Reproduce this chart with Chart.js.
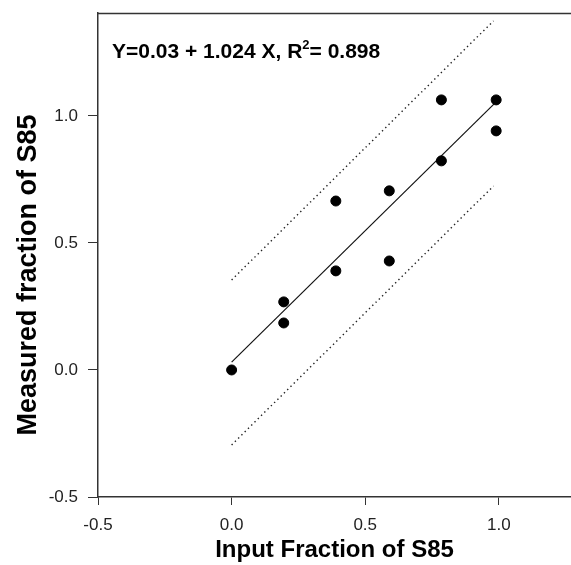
<!DOCTYPE html>
<html>
<head>
<meta charset="utf-8">
<script src="https://cdn.jsdelivr.net/npm/chart.js@4.4.1/dist/chart.umd.min.js"></script>
<style>
  html, body { margin: 0; padding: 0; background: #ffffff; }
  #wrap { width: 571px; height: 565px; }
</style>
</head>
<body>
<div id="wrap"><canvas id="c" width="571" height="565"></canvas></div>
<script>
// ---- data ----
const inputFraction    = [0, 0.195, 0.195, 0.39, 0.39, 0.59, 0.59, 0.785, 0.785, 0.99, 0.99];
const measuredFraction = [0.0, 0.268, 0.185, 0.665, 0.39, 0.705, 0.429, 1.063, 0.823, 1.063, 0.941];
const fitX   = [0, 0.99];
const fitY   = [0.031, 1.055];
const bandX  = [0, 0.98];
const upperY = [0.354, 1.374];
const lowerY = [-0.295, 0.724];
const xTicks = [-0.5, 0.0, 0.5, 1.0];
const yTicks = [-0.5, 0.0, 0.5, 1.0];
const xTitle = 'Input Fraction of S85';
const yTitle = 'Measured fraction of S85';
const eqMain = 'Y=0.03 + 1.024 X, R';
const eqSup  = '2';
const eqTail = '= 0.898';

const toPts = (xs, ys) => xs.map((x, i) => ({ x: x, y: ys[i] }));

const FONT = "'Liberation Sans', Arial, Helvetica, sans-serif";

const zeroPad = (s) => { s.paddingTop = 0; s.paddingBottom = 0; s.paddingLeft = 0; s.paddingRight = 0; };

const framePlugin = {
  id: 'frameAndText',
  afterDraw(chart) {
    const ctx = chart.ctx;
    const a = chart.chartArea;
    ctx.save();
    // top frame line
    ctx.strokeStyle = '#333';
    ctx.lineWidth = 1.5;
    ctx.beginPath();
    ctx.moveTo(a.left, a.top + 0.5);
    ctx.lineTo(a.right, a.top + 0.5);
    ctx.stroke();
    // equation
    ctx.fillStyle = '#000';
    ctx.textBaseline = 'alphabetic';
    ctx.textAlign = 'left';
    ctx.font = 'bold 21px ' + FONT;
    let x = 112, y = 58;
    ctx.fillText(eqMain, x, y);
    x += ctx.measureText(eqMain).width;
    ctx.font = 'bold 13px ' + FONT;
    ctx.fillText(eqSup, x, y - 9);
    x += ctx.measureText(eqSup).width;
    ctx.font = 'bold 21px ' + FONT;
    ctx.fillText(eqTail, x, y);
    // y title
    ctx.translate(29, 275);
    ctx.rotate(-Math.PI / 2);
    ctx.textAlign = 'center';
    ctx.textBaseline = 'middle';
    ctx.font = 'bold 27px ' + FONT;
    ctx.fillText(yTitle, 0, 0);
    ctx.restore();
  }
};

new Chart(document.getElementById('c'), {
  type: 'scatter',
  data: {
    datasets: [
      {
        label: 'data',
        data: toPts(inputFraction, measuredFraction),
        backgroundColor: '#000',
        borderColor: '#000',
        pointRadius: 5,
        pointHoverRadius: 5,
        showLine: false
      },
      {
        label: 'fit',
        data: toPts(fitX, fitY),
        borderColor: '#111',
        borderWidth: 1.2,
        pointRadius: 0,
        showLine: true
      },
      {
        label: 'upper',
        data: toPts(bandX, upperY),
        borderColor: '#222',
        borderWidth: 1.4,
        borderDash: [1.4, 3.2],
        pointRadius: 0,
        showLine: true
      },
      {
        label: 'lower',
        data: toPts(bandX, lowerY),
        borderColor: '#222',
        borderWidth: 1.4,
        borderDash: [1.4, 3.2],
        pointRadius: 0,
        showLine: true
      }
    ]
  },
  options: {
    responsive: false,
    animation: false,
    devicePixelRatio: 1,
    layout: { autoPadding: false, padding: { top: 13, right: 0, bottom: 0, left: 0 } },
    plugins: {
      legend: { display: false },
      tooltip: { enabled: false }
    },
    scales: {
      x: {
        type: 'linear',
        min: -0.5,
        max: 1.27,
        afterBuildTicks: (s) => { s.ticks = xTicks.map(v => ({ value: v })); },
        afterFit: (s) => { s.height = 68; zeroPad(s); },
        border: { display: true, color: '#333', width: 1.5 },
        grid: { display: true, drawOnChartArea: false, drawTicks: true, tickLength: 8, color: '#333', tickWidth: 1 },
        ticks: {
          padding: 10,
          color: '#222',
          font: { family: FONT, size: 17 },
          callback: (v) => v.toFixed(1)
        },
        title: {
          display: true,
          text: xTitle,
          color: '#000',
          font: { family: FONT, size: 24, weight: 'bold' },
          padding: { top: 0, bottom: 0 }
        }
      },
      y: {
        type: 'linear',
        min: -0.5,
        max: 1.405,
        afterBuildTicks: (s) => { s.ticks = yTicks.map(v => ({ value: v })); },
        afterFit: (s) => { s.width = 98; zeroPad(s); },
        border: { display: true, color: '#333', width: 1.5 },
        grid: { display: true, drawOnChartArea: false, drawTicks: true, tickLength: 10, color: '#333', tickWidth: 1 },
        ticks: {
          padding: 10,
          color: '#222',
          font: { family: FONT, size: 17 },
          callback: (v) => v.toFixed(1)
        }
      }
    }
  },
  plugins: [framePlugin]
});
</script>
</body>
</html>
